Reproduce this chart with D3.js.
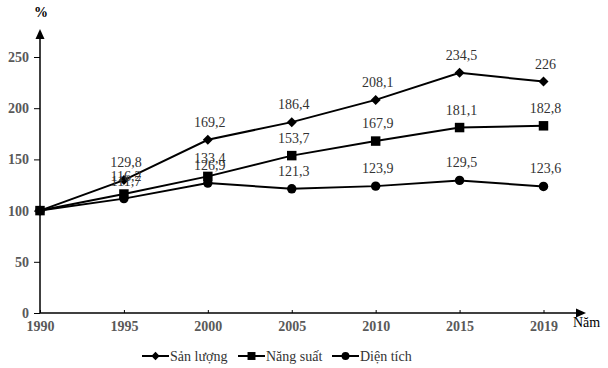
<!DOCTYPE html>
<html>
<head>
<meta charset="utf-8">
<script src="https://cdn.jsdelivr.net/npm/d3@7"></script>
<style>
  html, body { margin: 0; padding: 0; background: #fff; }
  svg text { font-family: 'Liberation Serif', 'Times New Roman', serif; }
</style>
</head>
<body>
<div id="chart"></div>
<script>
// dữ liệu
const years = ["1990", "1995", "2000", "2005", "2010", "2015", "2019"];
const sanLuong = [100, 129.8, 169.2, 186.4, 208.1, 234.5, 226];
const nangSuat = [100, 116.2, 133.4, 153.7, 167.9, 181.1, 182.8];
const dienTich = [100, 111.7, 126.9, 121.3, 123.9, 129.5, 123.6];
const yTicks = [0, 50, 100, 150, 200, 250];

const FONT = "'Liberation Serif', 'Times New Roman', serif";

// hình thoi vuông (quay 45 độ)
const diamond = {
  draw(ctx, size) {
    const r = Math.sqrt(size / 2);
    ctx.moveTo(0, -r); ctx.lineTo(r, 0); ctx.lineTo(0, r); ctx.lineTo(-r, 0); ctx.closePath();
  },
};

const series = [
  { name: "Sản lượng", values: sanLuong, symbol: diamond, size: 50 },
  { name: "Năng suất", values: nangSuat, symbol: d3.symbolSquare, size: 90 },
  { name: "Diện tích", values: dienTich, symbol: d3.symbolCircle, size: 70 },
];

const width = 608, height = 368;
const svg = d3.select("#chart").append("svg")
  .attr("width", width).attr("height", height)
  .attr("font-family", FONT);

const x = d3.scalePoint().domain(years).range([40, 543.5]);
const y = d3.scaleLinear().domain([0, 250]).range([313, 57]);

// trục tung
svg.append("line")
  .attr("x1", 40).attr("x2", 40)
  .attr("y1", y(0)).attr("y2", 36)
  .attr("stroke", "#000").attr("stroke-width", 1.5);
svg.append("path")
  .attr("d", "M40,29 L35.5,39 L44.5,39 Z")
  .attr("fill", "#000");

const gy = svg.append("g").attr("transform", "translate(40,0)")
  .call(d3.axisLeft(y).tickValues(yTicks).tickSize(6).tickPadding(5));
gy.attr("font-family", FONT);
gy.select(".domain").remove();
gy.selectAll("line").attr("stroke", "#000");
gy.selectAll("text")
  .attr("font-size", 14).attr("font-weight", "bold")
  .attr("fill", "#595959");

// trục hoành
svg.append("line")
  .attr("x1", 40).attr("x2", 578)
  .attr("y1", y(0)).attr("y2", y(0))
  .attr("stroke", "#000").attr("stroke-width", 1.5);
svg.append("path")
  .attr("d", `M586,${y(0)} L576,${y(0) - 4.5} L576,${y(0) + 4.5} Z`)
  .attr("fill", "#000");

const gx = svg.append("g").attr("transform", `translate(0,${y(0)})`)
  .call(d3.axisBottom(x).tickSizeInner(-3).tickSizeOuter(0).tickPadding(8));
gx.attr("font-family", FONT);
gx.select(".domain").remove();
gx.selectAll("line").attr("stroke", "#000");
gx.selectAll("text")
  .attr("font-size", 14).attr("font-weight", "bold")
  .attr("fill", "#595959");

svg.append("text").attr("x", 41).attr("y", 17)
  .attr("text-anchor", "middle")
  .attr("font-size", 14).attr("font-weight", "bold")
  .attr("fill", "#000").text("%");
svg.append("text").attr("x", 573).attr("y", 327)
  .attr("font-size", 14).attr("fill", "#000").text("Năm");

// các đường
const line = d3.line()
  .x((d, i) => x(years[i]))
  .y((d) => y(d));

series.forEach((s) => {
  svg.append("path")
    .datum(s.values)
    .attr("d", line)
    .attr("fill", "none")
    .attr("stroke", "#000")
    .attr("stroke-width", 2);

  svg.selectAll(null)
    .data(s.values)
    .enter()
    .append("path")
    .attr("d", d3.symbol().type(s.symbol).size(s.size))
    .attr("transform", (d, i) => `translate(${x(years[i])},${y(d)})`)
    .attr("fill", "#000");

  // nhãn số liệu (bỏ mốc 1990)
  svg.selectAll(null)
    .data(s.values.slice(1))
    .enter()
    .append("text")
    .attr("x", (d, i) => x(years[i + 1]) + 2)
    .attr("y", (d) => y(d) - 13)
    .attr("text-anchor", "middle")
    .attr("font-size", 14)
    .attr("fill", "#333")
    .text((d) => String(d).replace(".", ","));
});

// chú giải
const legendX = [142, 238, 332];
series.forEach((s, i) => {
  const g = svg.append("g").attr("transform", `translate(${legendX[i]},356)`);
  g.append("line").attr("x1", 0).attr("x2", 27)
    .attr("stroke", "#000").attr("stroke-width", 2);
  g.append("path")
    .attr("d", d3.symbol().type(s.symbol).size(s.size * 0.7))
    .attr("transform", "translate(13.5,0)")
    .attr("fill", "#000");
  g.append("text").attr("x", 28).attr("y", 5)
    .attr("font-size", 14).attr("fill", "#333")
    .text(s.name);
});
</script>
</body>
</html>
